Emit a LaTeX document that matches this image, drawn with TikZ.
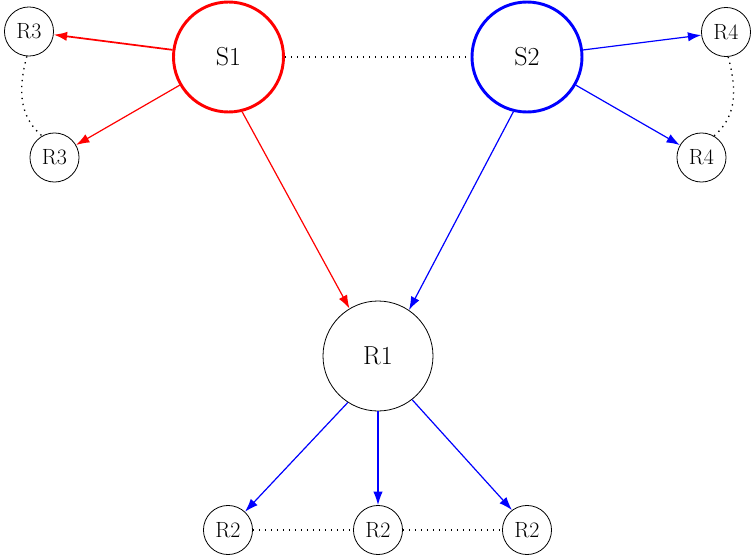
\documentclass[tikz,border=0pt]{standalone}
\usetikzlibrary{arrows.meta}
\begin{document}
\begin{tikzpicture}[x=0.75pt,y=-0.75pt,
  big/.style={circle,draw,minimum size=82.5pt,inner sep=0pt,font=\fontsize{19.5}{22}\selectfont},
  small/.style={circle,draw,line width=0.6pt,minimum size=36.8pt,inner sep=0pt,font=\fontsize{16.5}{19}\selectfont},
  rarrow/.style={draw=red,line width=0.9pt,-{Latex[length=10pt,width=7pt]}},
  barrow/.style={draw=blue,line width=0.9pt,-{Latex[length=10pt,width=7pt]}},
  dots/.style={line width=1pt,dash pattern=on 1pt off 3.5pt}]
\useasboundingbox (0,0) rectangle (751,557);
\node[big,draw=red,line width=2.2pt] (S1) at (228.5,57) {S1};
\node[big,draw=blue,line width=2.2pt] (S2) at (527,57) {S2};
\node[big,line width=0.6pt] (R1) at (378,356) {R1};
\node[small] (R3a) at (29,31.5) {R3};
\node[small] (R3b) at (54.5,157.5) {R3};
\node[small] (R4a) at (726,32) {R4};
\node[small] (R4b) at (701.5,157.5) {R4};
\node[small] (R2a) at (228,530) {R2};
\node[small] (R2b) at (378,530) {R2};
\node[small] (R2c) at (527,530) {R2};
\draw[rarrow,line width=1.3pt] (S1) -- (R3a);
\draw[rarrow] (S1) -- (R3b);
\draw[rarrow] (S1.-76) -- (R1.121);
\draw[barrow] (S2.-104) -- (R1.56);
\draw[barrow] (S2) -- (R4a);
\draw[barrow] (S2) -- (R4b);
\draw[barrow] (R1.-123) -- (R2a.47);
\draw[barrow] (R1.south) -- (R2b.north);
\draw[barrow] (R1.-52) -- (R2c.127);
\draw[dots] (S1) -- (S2);
\draw[dots] (R2a) -- (R2b);
\draw[dots] (R2b) -- (R2c);
\draw[dots] (R3a.-95) to[out=-105,in=140] (R3b.120);
\draw[dots] (R4a.-85) to[out=-75,in=40] (R4b.60);
\end{tikzpicture}
\end{document}
